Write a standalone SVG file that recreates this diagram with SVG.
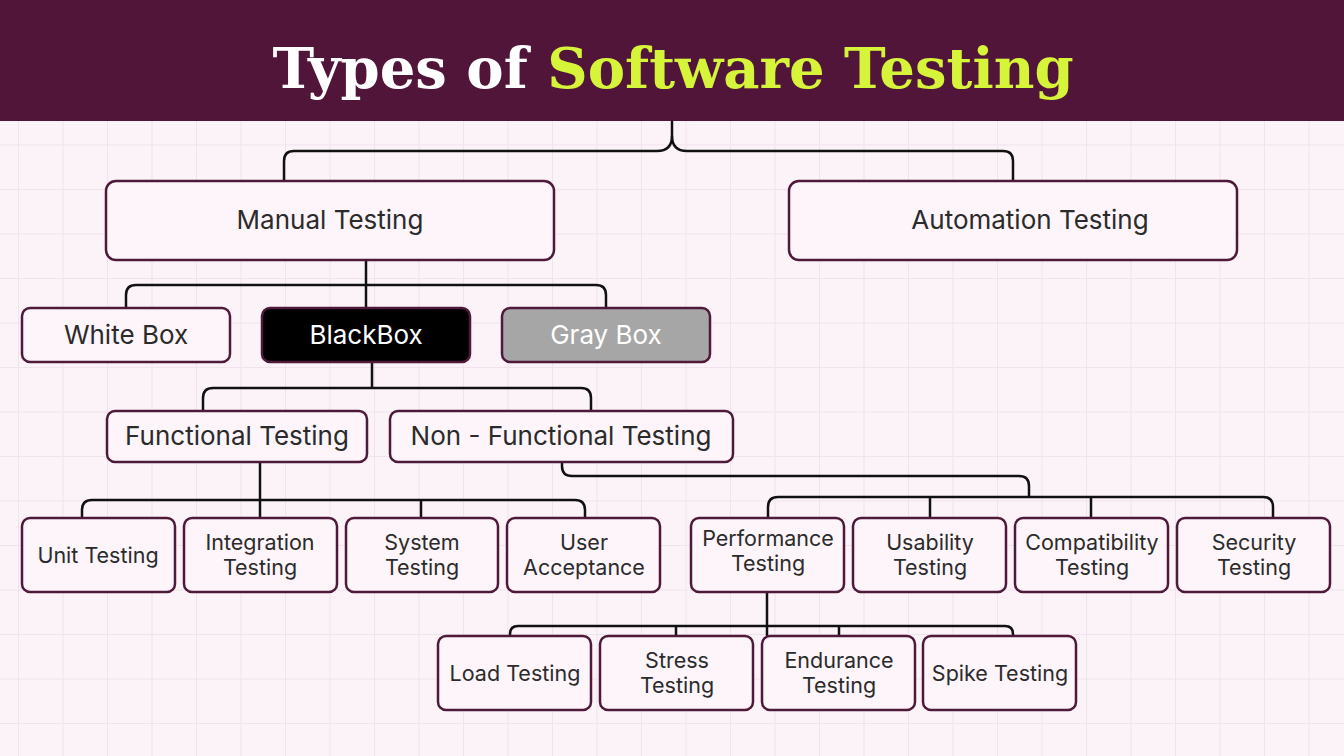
<svg xmlns="http://www.w3.org/2000/svg" width="1344" height="756" viewBox="0 0 1344 756">
<defs>
<pattern id="grid" x="18" y="11" width="44.5" height="44.5" patternUnits="userSpaceOnUse">
<path d="M0 0V44.5M0 0H44.5" fill="none" stroke="#f1e3ec" stroke-width="2"/>
</pattern>
</defs>
<style>
.n{fill:#fdf5fa;stroke:#4f1a3a;stroke-width:2.5}
.t{font-family:Inter,"Liberation Sans",sans-serif;fill:#2b2b2b;text-anchor:middle}
.b{font-size:26px}
.s{font-size:21.5px}
.c path{fill:none;stroke:#111;stroke-width:2.5;stroke-linejoin:round}
</style>
<rect width="1344" height="756" fill="#fcf3f9"/>
<rect width="1344" height="756" fill="url(#grid)"/>
<rect width="1344" height="121" fill="#52153a"/>
<text x="673" y="88" text-anchor="middle" font-family="'DejaVu Serif',serif" font-weight="bold" font-size="56" fill="#fff">Types of <tspan fill="#d6f53a">Software Testing</tspan></text>
<g class="c">
<path d="M672 121V136Q672 151 657 151H294Q284 151 284 161V181"/>
<path d="M672 136Q672 151 687 151H1003Q1013 151 1013 161V181"/>
<path d="M366 260V308M126 308V295Q126 285 136 285H596Q606 285 606 295V308"/>
<path d="M372 362V388M203 411V398Q203 388 213 388H581Q591 388 591 398V411"/>
<path d="M260 462V518M82 518V510Q82 500 92 500H575Q585 500 585 510V518M421 500V518"/>
<path d="M562 462V466Q562 476 572 476H1019Q1029 476 1029 486V497"/>
<path d="M768 518V507Q768 497 778 497H1263Q1273 497 1273 507V518M930 497V518M1091 497V518"/>
<path d="M767 592V636M510 636V634Q510 626 518 626H1005Q1013 626 1013 634V636M676 626V636M839 626V636"/>
</g>
<g id="manual"><rect class="n" x="106" y="181" width="448" height="79" rx="10"/><text class="t b" x="330" y="229">Manual Testing</text></g>
<g id="automation"><rect class="n" x="789" y="181" width="448" height="79" rx="10"/><text class="t b" x="1030" y="229">Automation Testing</text></g>
<g id="whitebox"><rect class="n" x="22" y="308" width="208" height="54" rx="8"/><text class="t b" x="126" y="344">White Box</text></g>
<g id="blackbox"><rect class="n" x="262" y="308" width="208" height="54" rx="8" style="fill:#000"/><text class="t b" x="366" y="344" style="fill:#fff">BlackBox</text></g>
<g id="graybox"><rect class="n" x="502" y="308" width="208" height="54" rx="8" style="fill:#a6a6a6"/><text class="t b" x="606" y="344" style="fill:#fff">Gray Box</text></g>
<g id="functional"><rect class="n" x="107" y="411" width="260" height="51" rx="8"/><text class="t b" x="237" y="445">Functional Testing</text></g>
<g id="nonfunctional"><rect class="n" x="390" y="411" width="343" height="51" rx="8"/><text class="t b" x="561" y="445">Non - Functional Testing</text></g>
<g id="unit"><rect class="n" x="22" y="518" width="153" height="74" rx="8"/><text class="t s" x="98" y="563">Unit Testing</text></g>
<g id="integration"><rect class="n" x="184" y="518" width="153" height="74" rx="8"/><text class="t s" x="260" y="550">Integration<tspan x="260" dy="25">Testing</tspan></text></g>
<g id="system"><rect class="n" x="346" y="518" width="152" height="74" rx="8"/><text class="t s" x="422" y="550">System<tspan x="422" dy="25">Testing</tspan></text></g>
<g id="user"><rect class="n" x="507" y="518" width="153" height="74" rx="8"/><text class="t s" x="584" y="550">User<tspan x="584" dy="25">Acceptance</tspan></text></g>
<g id="performance"><rect class="n" x="691" y="518" width="153" height="74" rx="8"/><text class="t s" x="768" y="546">Performance<tspan x="768" dy="25">Testing</tspan></text></g>
<g id="usability"><rect class="n" x="853" y="518" width="153" height="74" rx="8"/><text class="t s" x="930" y="550">Usability<tspan x="930" dy="25">Testing</tspan></text></g>
<g id="compatibility"><rect class="n" x="1015" y="518" width="153" height="74" rx="8"/><text class="t s" x="1092" y="550">Compatibility<tspan x="1092" dy="25">Testing</tspan></text></g>
<g id="security"><rect class="n" x="1177" y="518" width="153" height="74" rx="8"/><text class="t s" x="1254" y="550">Security<tspan x="1254" dy="25">Testing</tspan></text></g>
<g id="load"><rect class="n" x="438" y="636" width="153" height="74" rx="8"/><text class="t s" x="515" y="681">Load Testing</text></g>
<g id="stress"><rect class="n" x="600" y="636" width="153" height="74" rx="8"/><text class="t s" x="677" y="668">Stress<tspan x="677" dy="25">Testing</tspan></text></g>
<g id="endurance"><rect class="n" x="762" y="636" width="153" height="74" rx="8"/><text class="t s" x="839" y="668">Endurance<tspan x="839" dy="25">Testing</tspan></text></g>
<g id="spike"><rect class="n" x="923" y="636" width="153" height="74" rx="8"/><text class="t s" x="1000" y="681">Spike Testing</text></g>
</svg>
